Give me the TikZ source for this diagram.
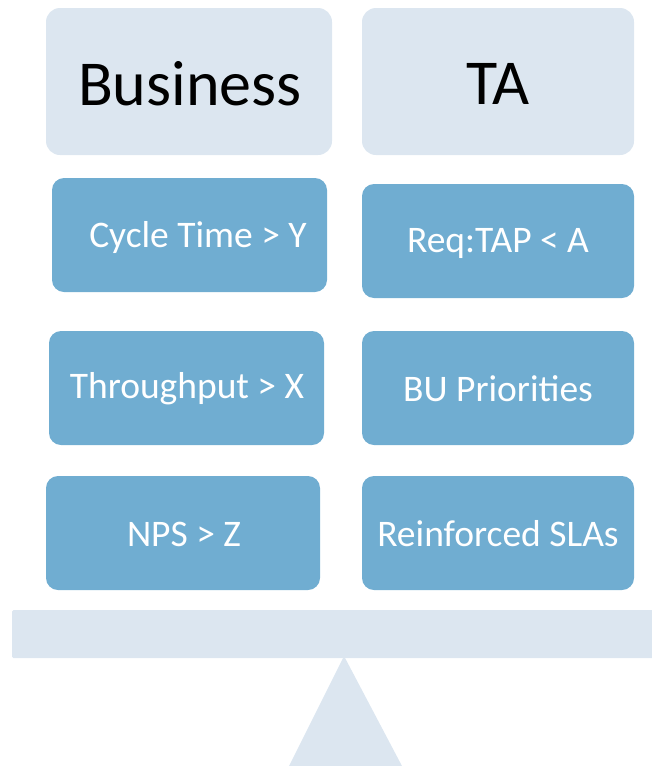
\documentclass[tikz,border=0pt]{standalone}
\usepackage{fontspec}
\setmainfont{Carlito}
\definecolor{lightbox}{HTML}{DCE6F0}
\definecolor{bluebox}{HTML}{70ADD1}
\tikzset{
  headbox/.style={fill=lightbox, draw=none, rounded corners=14pt},
  itembox/.style={fill=bluebox, draw=none, rounded corners=12pt},
  headtext/.style={font=\fontsize{64}{72}\selectfont, text=black},
  itemtext/.style={font=\fontsize{37.5}{44}\selectfont, text=white},
}
\begin{document}
\begin{tikzpicture}[x=1pt,y=-1pt]
\useasboundingbox (0,0) rectangle (651,766);
% header boxes
\path[headbox] (46,8) rectangle (332,155);
\path[headbox] (362,8) rectangle (634,155);
\node[headtext] (business) at (190,84) {Business};
\node[headtext] (ta) at (498,84) {TA};
% item boxes left
\path[itembox] (52,178) rectangle (327,292);
\node[itemtext] (cycle) at (198,237) {Cycle Time > Y};
\path[itembox] (49,331) rectangle (324,445);
\node[itemtext] (through) at (187,389) {Throughput > X};
\path[itembox] (46,476) rectangle (320,590);
\node[itemtext] (nps) at (184,534) {NPS > Z};
% item boxes right
\path[itembox] (362,184) rectangle (634,298);
\node[itemtext] (req) at (498,243) {Req:TAP < A};
\path[itembox] (362,331) rectangle (634,445);
\node[itemtext] (bu) at (498,389) {BU Priorities};
\path[itembox] (362,476) rectangle (634,590);
\node[itemtext] (sla) at (498,534) {Reinforced SLAs};
% balance
\fill[lightbox, rounded corners=1.5pt] (12,610) rectangle (660,658);
\fill[lightbox] (344,656) -- (402,766) -- (289,766) -- cycle;
\end{tikzpicture}
\end{document}
